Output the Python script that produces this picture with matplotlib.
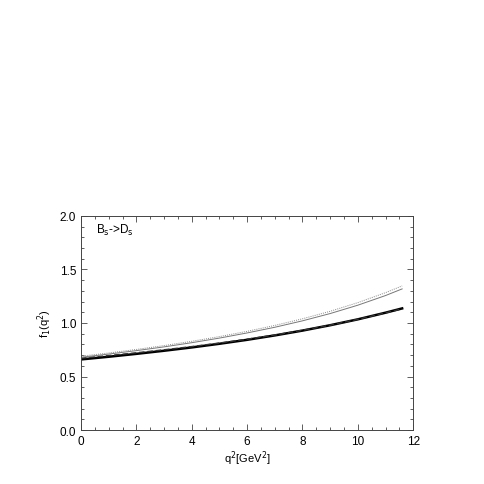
import matplotlib
matplotlib.use("Agg")
import matplotlib.pyplot as plt
from matplotlib.ticker import MultipleLocator, FormatStrFormatter

plt.rcParams["font.family"] = ["Liberation Sans", "DejaVu Sans"]

# q^2 grid (GeV^2) and form factor curves
q2 = [0, 1, 2, 3, 4, 5, 6, 7, 8, 9, 10, 11, 11.6]
f1_solid_thick = [0.660, 0.685, 0.712, 0.741, 0.772, 0.806, 0.843, 0.884, 0.929, 0.979, 1.034, 1.096, 1.136]
f1_dashed = [0.672, 0.696, 0.722, 0.750, 0.780, 0.813, 0.849, 0.888, 0.932, 0.980, 1.034, 1.094, 1.132]
f1_solid_thin = [0.680, 0.710, 0.742, 0.777, 0.816, 0.859, 0.907, 0.960, 1.020, 1.088, 1.166, 1.256, 1.318]
f1_dotted = [0.690, 0.720, 0.753, 0.789, 0.829, 0.873, 0.922, 0.977, 1.039, 1.109, 1.190, 1.283, 1.346]

fig = plt.figure(figsize=(4.85, 4.85), dpi=100)
ax = fig.add_axes([0.167, 0.111, 0.685, 0.442])

ax.plot(q2, f1_solid_thick, color="black", lw=1.8)
ax.plot(q2, f1_dashed, color="#333333", lw=1.0, ls=(0, (4, 2)))
ax.plot(q2, f1_solid_thin, color="#777777", lw=0.7)
ax.plot(q2, f1_dotted, color="#888888", lw=0.7, ls=(0, (1, 1.2)))

ax.text(0.55, 1.87, r"B$_{\rm s}$->D$_{\rm s}$", fontsize=8.5, va="center")

ax.set_xlim(0, 12)
ax.set_ylim(0, 2.0)
ax.xaxis.set_major_locator(MultipleLocator(2))
ax.xaxis.set_minor_locator(MultipleLocator(0.5))
ax.yaxis.set_major_locator(MultipleLocator(0.5))
ax.yaxis.set_minor_locator(MultipleLocator(0.1))
ax.yaxis.set_major_formatter(FormatStrFormatter("%.1f"))
ax.tick_params(which="both", direction="in", top=True, right=True, labelsize=8.5, width=0.6, color="#444444")
ax.tick_params(which="major", length=4)
ax.tick_params(which="minor", length=2)
for s in ax.spines.values():
    s.set_linewidth(0.7)
    s.set_color("#444444")

ax.set_xlabel(r"q$^2$[GeV$^2$]", fontsize=8, labelpad=1)
ax.set_ylabel(r"f$_1$(q$^2$)", fontsize=8, labelpad=4)

fig.savefig("out.png", dpi=100)
